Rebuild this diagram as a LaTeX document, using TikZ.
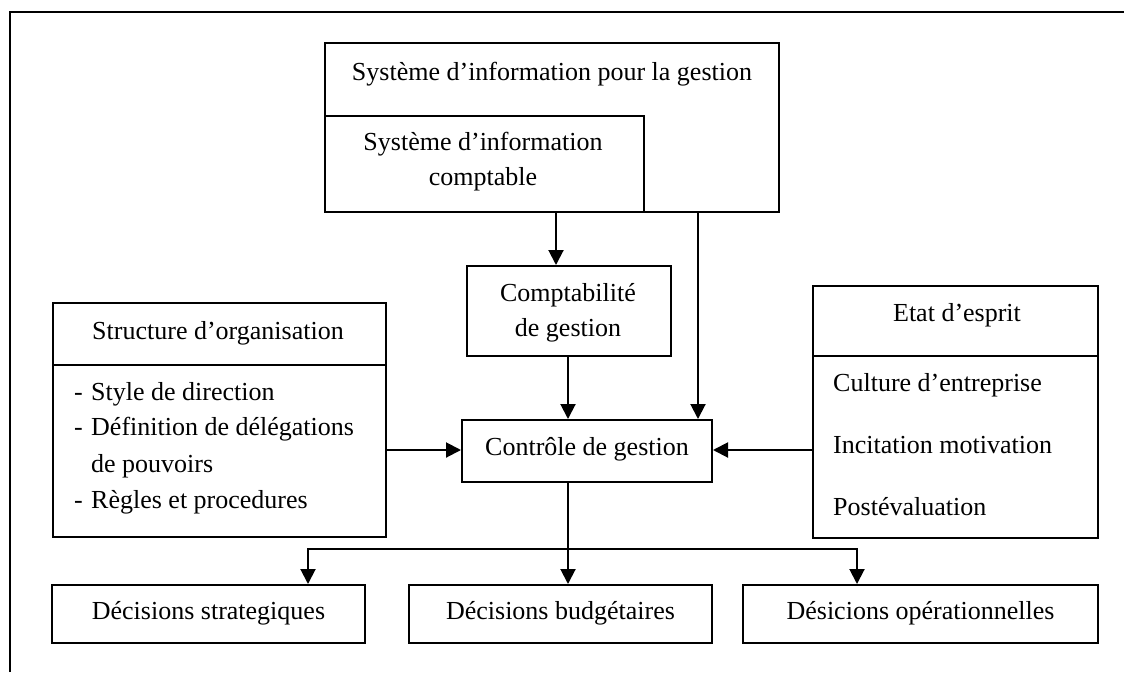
\documentclass[tikz,border=0pt]{standalone}
\usepackage{fontspec}
\setmainfont{Liberation Serif}
\usetikzlibrary{arrows.meta}
\begin{document}
\begin{tikzpicture}[x=1pt,y=-1pt,
  panel/.style={draw, line width=2pt, inner sep=0pt},
  txt/.style={inner sep=0pt, font=\fontsize{26}{32}\selectfont},
  arr/.style={line width=2pt, -{Triangle[width=15pt,length=15pt]}}]
\useasboundingbox (0,0) rectangle (1124,672);

% page frame
\coordinate (fbl) at (10,672);
\coordinate (ftl) at (10,12);
\coordinate (ftr) at (1124,12);
\draw[line width=1.8pt] (fbl) -- (ftl) -- (ftr);

% information systems
\node[panel, minimum width=454pt, minimum height=169pt] (sig) at (552,127.5) {};
\node[panel, minimum width=319pt, minimum height=96pt] (sic) at (484.5,164) {};
\node[txt, anchor=base] (sigt) at (552,80.7) {Système d’information pour la gestion};
\node[txt, anchor=base] (sict1) at (483,150.7) {Système d’information};
\node[txt, anchor=base] (sict2) at (483,185) {comptable};

% management accounting
\node[panel, minimum width=204pt, minimum height=90pt] (cg) at (569,311) {};
\node[txt, anchor=base] (cgt1) at (568,301.7) {Comptabilité};
\node[txt, anchor=base] (cgt2) at (568,336) {de gestion};

% management control
\node[panel, minimum width=250pt, minimum height=62pt] (ctl) at (587,451) {};
\node[txt, anchor=base] (ctlt) at (587,455) {Contrôle de gestion};

% organisation structure
\node[panel, minimum width=333pt, minimum height=234pt] (so) at (219.5,420) {};
\coordinate (sodiv) at (0,365);
\draw[panel] (so.west |- sodiv) -- (so.east |- sodiv);
\node[txt, anchor=base] (sot) at (218,339) {Structure d’organisation};
\node[txt, anchor=base west] (sod1) at (74,400) {-};
\node[txt, anchor=base west] (soi1) at (91,400) {Style de direction};
\node[txt, anchor=base west] (sod2) at (74,435) {-};
\node[txt, anchor=base west] (soi2) at (91,435) {Définition de délégations};
\node[txt, anchor=base west] (soi3) at (91,472) {de pouvoirs};
\node[txt, anchor=base west] (sod4) at (74,508) {-};
\node[txt, anchor=base west] (soi4) at (91,508) {Règles et procedures};

% state of mind
\node[panel, minimum width=285pt, minimum height=252pt] (ee) at (955.5,412) {};
\coordinate (eediv) at (0,356);
\draw[panel] (ee.west |- eediv) -- (ee.east |- eediv);
\node[txt, anchor=base] (eet) at (957,321) {Etat d’esprit};
\node[txt, anchor=base west] (eei1) at (833,391.7) {Culture d’entreprise};
\node[txt, anchor=base west] (eei2) at (833,453) {Incitation motivation};
\node[txt, anchor=base west] (eei3) at (833,515) {Postévaluation};

% decisions
\node[panel, minimum width=313pt, minimum height=58pt] (strat) at (208.5,614) {};
\node[panel, minimum width=303pt, minimum height=58pt] (budg) at (560.5,614) {};
\node[panel, minimum width=355pt, minimum height=58pt] (oper) at (920.5,614) {};
\node[txt, anchor=base] (stratt) at (208.5,619) {Décisions strategiques};
\node[txt, anchor=base] (budgt) at (560.5,619) {Décisions budgétaires};
\node[txt, anchor=base] (opert) at (920.5,619) {Désicions opérationnelles};

% connectors
\coordinate (xa) at (556,0);
\coordinate (xb) at (698,0);
\coordinate (xc) at (568,0);
\coordinate (ya) at (0,450);
\coordinate (fork) at (568,549);
\coordinate (xl) at (308,0);
\coordinate (xr) at (857,0);
\draw[arr] (sic.south -| xa) -- (cg.north -| xa);
\draw[arr] (sig.south -| xb) -- (ctl.north -| xb);
\draw[arr] (cg.south -| xc) -- (ctl.north -| xc);
\draw[arr] (so.east |- ya) -- (ctl.west |- ya);
\draw[arr] (ee.west |- ya) -- (ctl.east |- ya);
\draw[arr] (ctl.south -| xc) -- (budg.north -| xc);
\draw[arr] (fork) -| (strat.north -| xl);
\draw[arr] (fork) -| (oper.north -| xr);
\end{tikzpicture}
\end{document}
